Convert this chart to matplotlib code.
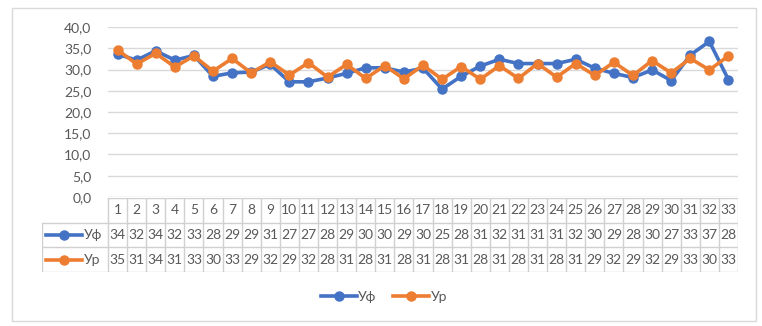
import matplotlib
matplotlib.use('Agg')
import matplotlib.pyplot as plt
from matplotlib.lines import Line2D
from matplotlib.patches import Rectangle

plt.rcParams['font.family'] = ['Lato', 'DejaVu Sans']

# data
days = list(range(1, 34))
y_f = [33.6, 32.2, 34.4, 32.2, 33.3, 28.4, 29.2, 29.4, 31.2, 27.1, 27.1, 28.0, 29.1,
       30.4, 30.4, 29.4, 30.3, 25.4, 28.4, 30.8, 32.4, 31.4, 31.4, 31.4, 32.4, 30.3,
       29.1, 28.1, 29.9, 27.4, 33.4, 36.6, 27.6]
y_r = [34.6, 31.3, 33.8, 30.6, 33.2, 29.6, 32.6, 29.2, 31.8, 28.7, 31.6, 28.2, 31.2,
       27.9, 30.9, 27.8, 31.0, 27.7, 30.7, 27.7, 30.9, 27.9, 31.4, 28.2, 31.4, 28.6,
       31.7, 28.6, 32.1, 29.2, 32.6, 29.9, 33.2]
names = ['Уф', 'Ур']
colors = ['#4472C4', '#ED7D31']
yticks = [0, 5, 10, 15, 20, 25, 30, 35, 40]

W, H = 762, 326
fig = plt.figure(figsize=(W / 100, H / 100), dpi=100)
txt = '#595959'
grid = '#D9D9D9'

def fx(px):
    return px / W

def fy(py):
    return 1 - py / H

# outer frame
fig.patches.append(Rectangle((fx(12), fy(321)), fx(756) - fx(12), fy(8) - fy(321),
                             transform=fig.transFigure, fill=False, ec=grid, lw=1))

x0, x1 = 108, 738
ax = fig.add_axes([fx(x0), fy(197), fx(x1) - fx(x0), fy(27) - fy(197)])
for v, c, n in zip([y_f, y_r], colors, names):
    ax.plot(days, v, color=c, lw=2.6, marker='o', ms=6.5, label=n)
ax.set_xlim(0.5, 33.5)
ax.set_ylim(0, 40)
ax.set_yticks(yticks)
ax.yaxis.set_major_formatter(matplotlib.ticker.FuncFormatter(lambda v, p: ('%.1f' % v).replace('.', ',')))
ax.tick_params(axis='y', length=0, labelsize=10, labelcolor=txt, pad=12)
ax.set_xticks([])
ax.grid(axis='y', color=grid, lw=1)
ax.set_axisbelow(True)
for s in ax.spines.values():
    s.set_visible(False)

# data table below
cw = (x1 - x0) / 33.0
tl = 42
tb = fig.add_axes([fx(tl), fy(272), fx(x1) - fx(tl), fy(198) - fy(272)])
left_u = 0.5 - (x0 - tl) / cw
tb.set_xlim(left_u, 33.5)
tb.set_ylim(3, 0)
tb.axis('off')
bc = '#D0D0D0'
# borders
tb.plot([0.5, 33.5], [0, 0], color=bc, lw=1)
tb.plot([left_u, 33.5], [1, 1], color=bc, lw=1)
tb.plot([left_u, 33.5], [2, 2], color=bc, lw=1)
tb.plot([left_u, 33.5], [3, 3], color=bc, lw=1)
tb.plot([left_u, left_u], [1, 3], color=bc, lw=1)
for d in days:
    tb.plot([d - 0.5, d - 0.5], [0, 3], color=bc, lw=1)
tb.plot([33.5, 33.5], [0, 3], color=bc, lw=1)
for d in days:
    tb.text(d, 0.5, str(d), ha='center', va='center', fontsize=10, color=txt)
for r, (v, c, n) in enumerate(zip([y_f, y_r], colors, names)):
    for d, val in zip(days, v):
        tb.text(d, 1.5 + r, '%.0f' % val, ha='center', va='center', fontsize=10, color=txt)
    k0 = left_u + 0.2
    tb.plot([k0, k0 + 1.9], [1.5 + r, 1.5 + r], color=c, lw=2.6)
    tb.plot([k0 + 0.95], [1.5 + r], color=c, marker='o', ms=6.5)
    tb.text(k0 + 2.0, 1.5 + r, n, ha='left', va='center', fontsize=10, color=txt)

# legend
handles = [Line2D([0], [0], color=c, lw=2.6, marker='o', ms=6.5) for c in colors]
fig.legend(handles, names, loc='center', bbox_to_anchor=(fx(384), fy(297)), ncol=2,
           frameon=False, fontsize=10, labelcolor=txt, handlelength=2.6,
           handletextpad=0.1, columnspacing=1.2)

fig.savefig('out.png', dpi=100)
